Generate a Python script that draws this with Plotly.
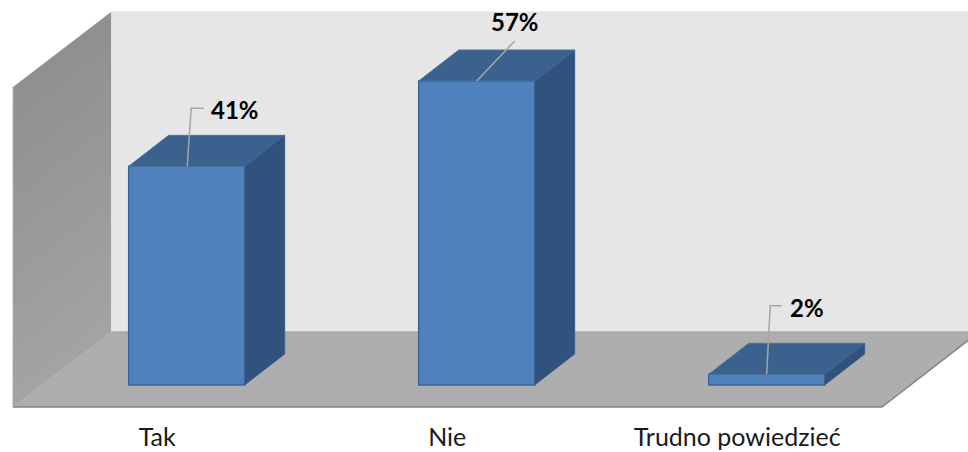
import plotly.graph_objects as go

categories = ["Tak", "Nie", "Trudno powiedzieć"]
values = [41, 57, 2]
value_labels = ["41%", "57%", "2%"]

# Page geometry: pixel position of the value axis origin and scales
W, H, BOTTOM = 968, 452, 39
PX_X, PX_Y = 290.0, 304 / 57
X0, Y0 = 186.7, 385.0
def px_x(p): return (p - X0) / PX_X
def px_y(p): return (Y0 - p) / PX_Y

BAR_W = 116 / PX_X
DX, DY = 40 / PX_X, 31 / PX_Y
FRONT, TOP, SIDE, EDGE = "#4F81BD", "#3B618F", "#30527C", "#3A659B"

fig = go.Figure()
fig.add_bar(x=list(range(3)), y=values, width=BAR_W, marker=dict(color=FRONT, line=dict(color=EDGE, width=1.5)),
            hoverinfo="skip", showlegend=False)

for i, v in enumerate(values):
    l, r = i - BAR_W / 2, i + BAR_W / 2
    fig.add_scatter(x=[l, r, r + DX, l + DX, l], y=[v, v, v + DY, v + DY, v], mode="lines", fill="toself",
                    fillcolor=TOP, line=dict(color="#4A719F", width=1), hoverinfo="skip", showlegend=False)
    fig.add_scatter(x=[r, r + DX, r + DX, r, r], y=[0, DY, v + DY, v, 0], mode="lines", fill="toself",
                    fillcolor=SIDE, line=dict(color="#3D6390", width=1), hoverinfo="skip", showlegend=False)

# Leader lines and labels, as pixel offsets from the centre of each bar's top edge
leaders = [[(0.5, 0), (4.5, -58), (17, -58)],
           [(0, 0), (38, -40)],
           [(0, 0), (3.5, -68.5), (15, -68.5)]]
label_offsets = [(48.5, -56.5), (38.5, -59.5), (40, -67)]
for i, v in enumerate(values):
    fig.add_scatter(x=[i + o[0] / PX_X for o in leaders[i]], y=[v - o[1] / PX_Y for o in leaders[i]], mode="lines",
                    line=dict(color="#A6A6A6", width=1.5), hoverinfo="skip", showlegend=False)
    fig.add_annotation(x=i + label_offsets[i][0] / PX_X, y=v - label_offsets[i][1] / PX_Y, text=f"<b>{value_labels[i]}</b>",
                       showarrow=False, font=dict(family="Lato", size=24, color="#000000"), xanchor="center", yanchor="middle")

# Chart box: back wall, floor and shaded left wall
def poly(pts):
    return "M " + " L ".join(f"{px_x(a)} {px_y(b)}" for a, b in pts) + " Z"

shapes = [
    dict(type="path", path=poly([(111, 12), (979, 12), (979, 332), (111, 332)]), fillcolor="#E6E6E6",
         line=dict(color="#DCDCDC", width=0.75), layer="below"),
]
STEPS = 20
for s in range(STEPS):
    a = s / STEPS
    shade = int(round(0x8F + (0xA4 - 0x8F) * (s + 0.5) / STEPS))
    col = f"rgb({shade},{shade},{shade})"
    shapes.append(dict(type="path", path=poly([(13, 87 + 320 * a), (111, 12 + 320 * a), (111, 332), (13, 407)]),
                       fillcolor=col, line=dict(width=0), layer="below"))
shapes += [
    dict(type="path", path=poly([(13, 407), (111, 332), (979, 332), (882, 407)]), fillcolor="#AEAEAE",
         line=dict(width=0), layer="below"),
    dict(type="path", path=poly([(111, 332), (979, 332)]).replace(" Z", ""), line=dict(color="#9A9A9A", width=1), layer="below"),
    dict(type="path", path=poly([(13, 407), (111, 332)]).replace(" Z", ""), line=dict(color="#B4B4B4", width=1), layer="below"),
    dict(type="path", path=poly([(13, 87), (13, 407)]).replace(" Z", ""), line=dict(color="#B0B0B0", width=1), layer="below"),
    dict(type="path", path=poly([(13, 407), (882, 407), (979, 332)]).replace(" Z", ""), line=dict(color="#848484", width=1.5), layer="below"),
]

fig.update_layout(
    width=W, height=H, autosize=False, margin=dict(l=0, r=0, t=0, b=BOTTOM, pad=0),
    paper_bgcolor="white", plot_bgcolor="white", shapes=shapes, showlegend=False,
    xaxis=dict(range=[px_x(0), px_x(W)], tickmode="array", tickvals=[i - 29.5 / PX_X for i in range(3)], ticktext=categories,
               ticks="outside", ticklen=2, tickcolor="rgba(0,0,0,0)", showgrid=False, zeroline=False, showline=False,
               automargin=False, tickfont=dict(family="Lato", size=25, color="#1A1A1A"), fixedrange=True),
    yaxis=dict(range=[px_y(H - BOTTOM), px_y(0)], visible=False, showgrid=False, zeroline=False, fixedrange=True, automargin=False),
)
fig.write_html("out.html", config={"displayModeBar": False}, post_script="document.body.style.margin='0';")
